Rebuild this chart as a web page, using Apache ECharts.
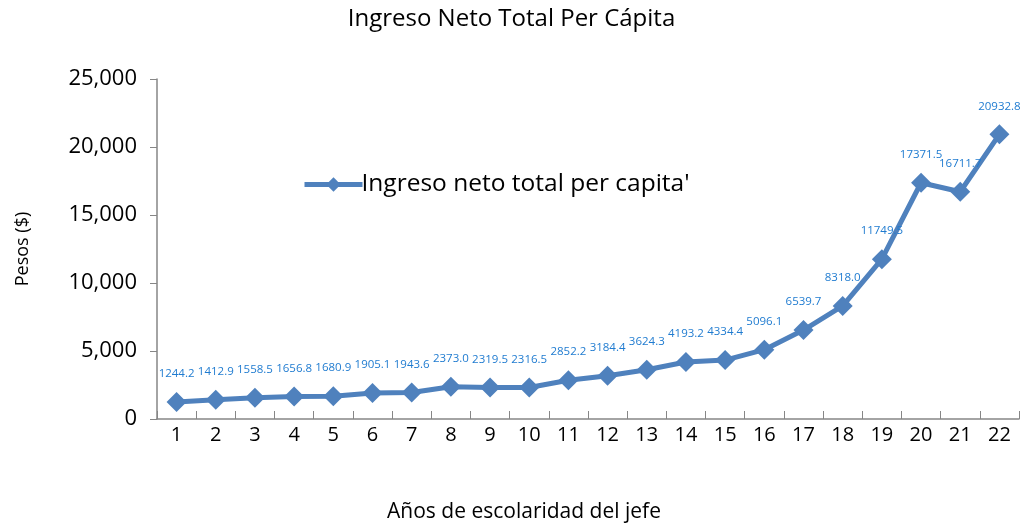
<!DOCTYPE html>
<html>
<head>
<meta charset="utf-8">
<script src="https://cdn.jsdelivr.net/npm/echarts@6/dist/echarts.min.js"></script>
<style>
    html, body { margin: 0; padding: 0; background: #fff; }
    #chart { width: 1023px; height: 525px; }
</style>
</head>
<body>
<div id="chart"></div>
<script>
// Años de escolaridad del jefe
const years = ["1", "2", "3", "4", "5", "6", "7", "8", "9", "10", "11",
    "12", "13", "14", "15", "16", "17", "18", "19", "20", "21", "22"];

// Ingreso neto total per capita (pesos)
const ingreso = [1244.2, 1412.9, 1558.5, 1656.8, 1680.9, 1905.1, 1943.6,
    2373.0, 2319.5, 2316.5, 2852.2, 3184.4, 3624.3, 4193.2, 4334.4,
    5096.1, 6539.7, 8318.0, 11749.5, 17371.5, 16711.7, 20932.8];

const yTicks = [0, 5000, 10000, 15000, 20000, 25000];

const font = "'Open Sans', 'Noto Sans', sans-serif";
const axisGray = "#868686";

const chart = echarts.init(document.getElementById("chart"));

chart.setOption({
    backgroundColor: "#fff",
    textStyle: { fontFamily: font },
    title: {
        text: "Ingreso Neto Total Per Cápita",
        left: "center",
        top: 2,
        textStyle: { fontFamily: font, fontSize: 24, fontWeight: "normal", color: "#000" }
    },
    legend: {
        left: 297,
        top: 167,
        itemWidth: 58,
        itemHeight: 18,
        itemGap: 0,
        lineStyle: { width: 5 },
        textStyle: { fontFamily: font, fontSize: 24.5, color: "#000", padding: [0, 0, 0, -6] }
    },
    // positions fixed, do not let axis names shrink the plot
    grid: { left: 157, right: 4, top: 79, bottom: 106, outerBoundsMode: "none" },
    xAxis: {
        type: "category",
        data: years,
        name: "Años de escolaridad del jefe",
        nameLocation: "middle",
        nameGap: 83,
        nameTextStyle: { fontFamily: font, fontSize: 21, color: "#000", padding: [0, 128, 0, 0] },
        axisLine: { lineStyle: { color: axisGray, width: 1.5 } },
        axisTick: { show: true, inside: true, length: 8, lineStyle: { color: axisGray } },
        axisLabel: { fontFamily: font, fontSize: 20, color: "#000", margin: 6 }
    },
    yAxis: {
        type: "value",
        min: yTicks[0],
        max: yTicks[yTicks.length - 1],
        interval: yTicks[1] - yTicks[0],
        name: "Pesos ($)",
        nameLocation: "middle",
        nameGap: 125,
        nameTextStyle: { fontFamily: font, fontSize: 18, color: "#000" },
        splitLine: { show: false },
        axisLine: { show: true, lineStyle: { color: axisGray, width: 1.5 } },
        axisTick: { show: true, length: 7, lineStyle: { color: axisGray } },
        axisLabel: {
            fontFamily: font,
            fontSize: 22,
            color: "#000",
            margin: 20,
            formatter: v => v.toLocaleString("en-US")
        }
    },
    series: [{
        name: "Ingreso neto total per capita'",
        type: "line",
        data: ingreso,
        symbol: "diamond",
        symbolSize: 20,
        lineStyle: { color: "#4f81bd", width: 5 },
        itemStyle: { color: "#4f81bd" },
        label: {
            show: true,
            position: "top",
            distance: 12,
            fontFamily: font,
            fontSize: 11.5,
            color: "#1f7bd0",
            formatter: p => p.value.toFixed(1)
        },
        animation: false
    }]
});
</script>
</body>
</html>
